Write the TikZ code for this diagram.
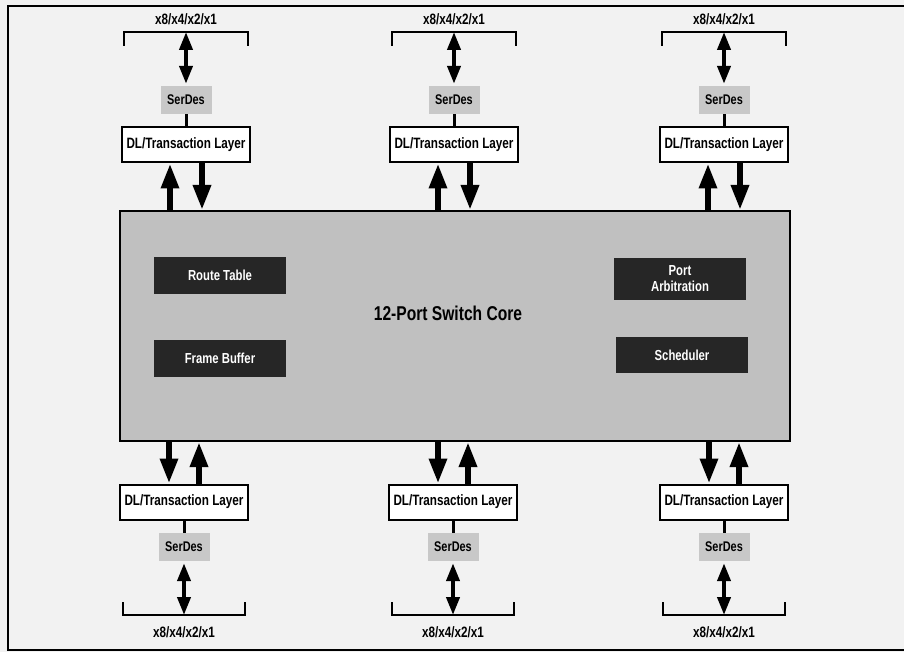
\documentclass[tikz,border=0pt]{standalone}
\usepackage{fontspec}
\setmainfont{Liberation Sans}[FakeStretch=0.78]
\usetikzlibrary{arrows.meta}
\definecolor{pagegray}{HTML}{F2F2F2}
\definecolor{coregray}{HTML}{C0C0C0}
\definecolor{serdesgray}{HTML}{C8C8C8}
\definecolor{blockblack}{HTML}{262626}
\tikzset{
  layerbox/.style={draw=black,line width=2pt,fill=white,minimum width=128pt,minimum height=35pt,inner sep=0pt,font=\bfseries\fontsize{15}{17}\selectfont},
  serdesbox/.style={fill=serdesgray,minimum width=51pt,minimum height=28pt,inner sep=0pt,font=\bfseries\fontsize{14}{16}\selectfont},
  blockbox/.style={fill=blockblack,text=white,minimum width=132pt,minimum height=37pt,inner sep=0pt,align=center,font=\bfseries\fontsize{14.5}{16}\selectfont},
  fatarrow/.style={line width=6pt,-{Triangle[width=17pt,length=25pt]}},
  linkarrow/.style={line width=4pt,{Triangle[width=13pt,length=18pt]}-{Triangle[width=13pt,length=18pt]}},
  bracket/.style={line width=2pt},
  widthlabel/.style={font=\bfseries\fontsize{15}{17}\selectfont}
}
\begin{document}
\begin{tikzpicture}[x=1pt,y=-1pt]
\useasboundingbox (0,0) rectangle (904,652);
\fill[pagegray] (0,0) rectangle (904,652);
% outer frame, open on the right
\draw[line width=2.5pt] (904,6) -- (8,6) -- (8,650) -- (904,650);
% the switch core and its blocks
\node[draw=black,line width=2pt,fill=coregray,minimum width=670pt,minimum height=230pt,inner sep=0pt] (core) at (455,326) {};
\node[font=\bfseries\fontsize{20}{22}\selectfont] (corename) at (448,313) {12-Port Switch Core};
\node[blockbox] (route) at (220,275) {Route Table};
\node[blockbox] (frame) at (220,358) {Frame Buffer};
\node[blockbox,minimum height=42pt] (arbit) at (680,279) {Port\\Arbitration};
\node[blockbox,minimum height=36pt] (sched) at (682,355) {Scheduler};
% upper ports
\foreach \n/\x in {a/186,b/454,c/724} {
  \node[layerbox] (dlt\n) at (\x,145) {DL/Transaction Layer};
  \node[serdesbox] (sdt\n) at (\x,100) {SerDes};
  \draw[line width=3pt] (sdt\n) -- (dlt\n);
  \draw[bracket] (\x-62,46) -- (\x-62,32) -- (\x+62,32) -- (\x+62,46);
  \coordinate (lnt\n) at (\x,32);
  \node[widthlabel] (wdt\n) at (\x,19) {x8/x4/x2/x1};
  \draw[linkarrow,shorten >=2pt] (lnt\n) -- (sdt\n);
  \draw[fatarrow] ([xshift=-16pt]dlt\n.south |- core.north) -- ([xshift=-16pt]dlt\n.south);
  \draw[fatarrow] ([xshift=16pt]dlt\n.south) -- ([xshift=16pt]dlt\n.south |- core.north);
}
% lower ports
\foreach \n/\x in {a/184,b/453,c/724} {
  \node[layerbox] (dlb\n) at (\x,502) {DL/Transaction Layer};
  \node[serdesbox] (sdb\n) at (\x,547) {SerDes};
  \draw[line width=3pt] (dlb\n) -- (sdb\n);
  \draw[bracket] (\x-61,602) -- (\x-61,615) -- (\x+61,615) -- (\x+61,602);
  \coordinate (lnb\n) at (\x,615);
  \node[widthlabel] (wdb\n) at (\x,632) {x8/x4/x2/x1};
  \draw[linkarrow,shorten >=2pt] (lnb\n) -- (sdb\n);
  \draw[fatarrow] ([xshift=-15pt]dlb\n.north |- core.south) -- ([xshift=-15pt]dlb\n.north);
  \draw[fatarrow] ([xshift=15pt]dlb\n.north) -- ([xshift=15pt]dlb\n.north |- core.south);
}
\end{tikzpicture}
\end{document}
